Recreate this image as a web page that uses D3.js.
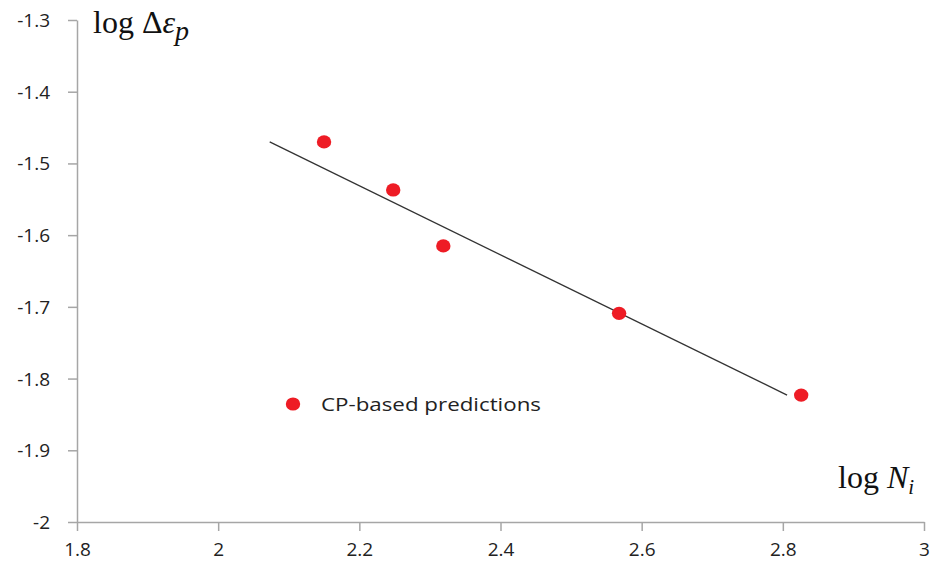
<!DOCTYPE html>
<html>
<head>
<meta charset="utf-8">
<script src="https://cdn.jsdelivr.net/npm/d3@7"></script>
<style>
  body { margin: 0; background: #fff; }
  svg { display: block; }
</style>
</head>
<body>
<svg></svg>
<script>
// chart data
const logN = [2.150, 2.248, 2.319, 2.568, 2.826];
const logEps = [-1.470, -1.537, -1.615, -1.709, -1.823];
const fitX = [2.073, 2.806];
const fitY = [-1.470, -1.823];
const xTicks = [1.8, 2, 2.2, 2.4, 2.6, 2.8, 3];
const yTicks = [-1.3, -1.4, -1.5, -1.6, -1.7, -1.8, -1.9, -2];
const legendLabel = "CP-based predictions";

const WIDTH = 930;
const HEIGHT = 577;
const LEFT = 77, RIGHT = 924, TOP = 20, BOTTOM = 522;
const AXIS_COLOR = "#a6a6a6";
const DOT_COLOR = "#ee1c25";

const svg = d3.select("svg")
  .attr("width", WIDTH)
  .attr("height", HEIGHT);

const x = d3.scaleLinear().domain([1.8, 3]).range([LEFT, RIGHT]);
const y = d3.scaleLinear().domain([-2, -1.3]).range([BOTTOM, TOP]);

// plain hyphen for negatives, like the original
const fmt = d => String(+d.toFixed(1));

// axes
const xAxis = svg.append("g")
  .attr("transform", `translate(0,${BOTTOM})`)
  .call(d3.axisBottom(x).tickValues(xTicks).tickSize(9).tickSizeOuter(0).tickFormat(fmt));
const yAxis = svg.append("g")
  .attr("transform", `translate(${LEFT},0)`)
  .call(d3.axisLeft(y).tickValues(yTicks).tickSize(9).tickSizeOuter(0).tickFormat(fmt));

[xAxis, yAxis].forEach(g => {
  g.select(".domain").attr("stroke", AXIS_COLOR).attr("stroke-width", 1.5);
  g.selectAll(".tick line").attr("stroke", AXIS_COLOR).attr("stroke-width", 1.5);
  g.selectAll(".tick text")
    .attr("fill", "#222")
    .attr("font-family", "'Open Sans', sans-serif")
    .attr("font-size", "19px");
});
xAxis.selectAll(".tick text").attr("y", 21).attr("dy", "0.71em");
yAxis.selectAll(".tick text").attr("x", -27).attr("dy", "0.34em");

// fitted line
svg.append("line")
  .attr("x1", x(fitX[0]))
  .attr("y1", y(fitY[0]))
  .attr("x2", x(fitX[1]))
  .attr("y2", y(fitY[1]))
  .attr("stroke", "#333")
  .attr("stroke-width", 1.3);

// points
svg.selectAll("ellipse.pt")
  .data(logN.map((d, i) => [d, logEps[i]]))
  .join("ellipse")
  .attr("class", "pt")
  .attr("cx", d => x(d[0]))
  .attr("cy", d => y(d[1]))
  .attr("rx", 7.2)
  .attr("ry", 6.6)
  .attr("fill", DOT_COLOR);

// legend
svg.append("ellipse")
  .attr("cx", 293)
  .attr("cy", 404)
  .attr("rx", 7.2)
  .attr("ry", 6.6)
  .attr("fill", DOT_COLOR);
svg.append("text")
  .attr("x", 321)
  .attr("y", 411)
  .attr("font-family", "'Open Sans', sans-serif")
  .attr("font-size", "19px")
  .attr("textLength", 220)
  .attr("lengthAdjust", "spacingAndGlyphs")
  .attr("fill", "#222")
  .text(legendLabel);

// axis titles
const yTitle = svg.append("text")
  .attr("x", 93)
  .attr("y", 33)
  .attr("font-family", "'Liberation Serif', serif")
  .attr("font-size", "32px")
  .attr("fill", "#111");
yTitle.append("tspan").text("log \u0394");
yTitle.append("tspan").attr("font-style", "italic").text("\u03b5");
yTitle.append("tspan").attr("font-style", "italic").attr("dy", 7).attr("font-size", "28px").text("p");

const xTitle = svg.append("text")
  .attr("x", 838)
  .attr("y", 488)
  .attr("font-family", "'Liberation Serif', serif")
  .attr("font-size", "32px")
  .attr("fill", "#111");
xTitle.append("tspan").text("log ");
xTitle.append("tspan").attr("font-style", "italic").text("N");
xTitle.append("tspan").attr("font-style", "italic").attr("dy", 6).attr("font-size", "21px").text("i");
</script>
</body>
</html>
